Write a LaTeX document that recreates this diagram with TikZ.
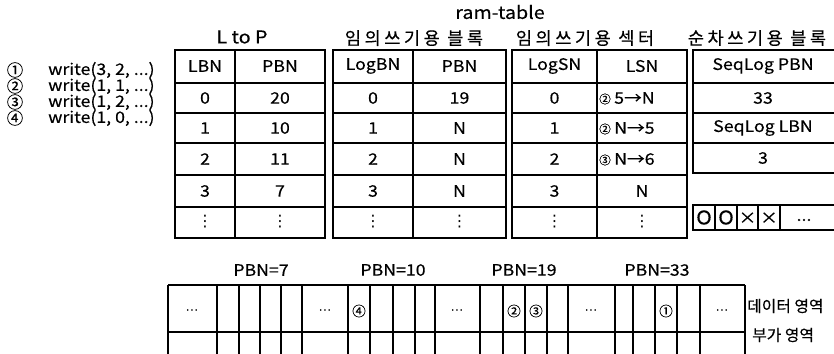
\documentclass[tikz,border=0pt]{standalone}
\usepackage{fontspec}
\setmainfont{Noto Sans CJK KR}
\newfontfamily\cellfam{Noto Sans CJK KR}[FakeStretch=1.12, FakeBold=0.4]
\newfontfamily\krfam{Noto Sans CJK KR}[FakeBold=0.4]
\newfontfamily\titlekrfam{Noto Sans CJK KR}[LetterSpace=20, FakeBold=0.4]
\newfontfamily\symfam{DejaVu Sans}
\usetikzlibrary{positioning}

\newcommand{\cellfont}{\cellfam\fontsize{13.5}{15}\selectfont}
\newcommand{\areafont}{\krfam\fontsize{13.5}{15}\selectfont}
\newcommand{\titlefont}{\cellfam\fontsize{15}{17}\selectfont}
\newcommand{\titlekrfont}{\titlekrfam\fontsize{15}{17}\selectfont}
\newcommand{\markfont}{\krfam\fontsize{10}{11}\selectfont}
\newcommand{\bigmarkfont}{\krfam\fontsize{11.5}{13}\selectfont}
\newcommand{\vdotsmark}{{\symfam ⋮}}
\newcommand{\hdotsmark}{{\symfam\fontsize{11}{12}\selectfont ⋯}}

\begin{document}
\begin{tikzpicture}[x=0.03cm, y=-0.03cm,
    tblFrame/.style={draw, line width=2.2pt},
    thinLine/.style={draw, line width=0.9pt},
    cellText/.style={font=\cellfont, inner sep=0pt},
    titleText/.style={font=\titlefont, inner sep=0pt},
    titleKr/.style={font=\titlekrfont, inner sep=0pt},
    markText/.style={font=\bigmarkfont, inner sep=0pt},
    listMark/.style={font=\krfam\fontsize{14}{15}\selectfont, inner sep=0pt}
]
    \useasboundingbox (0,0) rectangle (834,353);

    % titles
    \node[titleText] (ram) at (500,12) {ram-table};
    \node[titleText] (tLtoP) at (242,37) {L to P};
    \node[titleKr] (tRandBlk) at (414,38) {임의쓰기용 블록};
    \node[titleKr] (tRandSec) at (585,38) {임의쓰기용 섹터};
    \node[titleKr] (tSeqBlk) at (757,38) {순차쓰기용 블록};

    % write requests
    \node[listMark] (c1) at (15,70) {①};
    \node[listMark] (c2) at (15,86) {②};
    \node[listMark] (c3) at (15,102) {③};
    \node[listMark] (c4) at (15,118) {④};
    \node[cellText, anchor=west] (w1) at (48,70) {write(3, 2, ...)};
    \node[cellText, anchor=west] (w2) at (48,86) {write(1, 1, ...)};
    \node[cellText, anchor=west] (w3) at (48,102) {write(1, 2, ...)};
    \node[cellText, anchor=west] (w4) at (48,118) {write(1, 0, ...)};

    % L to P table
    \foreach \y in {83,113,143,175,207} \draw[thinLine] (175,\y) -- (325,\y);
    \draw[thinLine] (235,50) -- (235,238);
    \draw[tblFrame] (175,50) rectangle (325,238);
    \foreach \y/\a/\b in {66/LBN/PBN, 98/0/20, 128/1/10, 159/2/11, 191/3/7, 222/\vdotsmark/\vdotsmark} {
        \node[cellText] (lpa\y) at (205,\y) {\a};
        \node[cellText] (lpb\y) at (280,\y) {\b};
    }

    % random write block table
    \foreach \y in {83,113,143,175,207} \draw[thinLine] (333,\y) -- (506,\y);
    \draw[thinLine] (413,50) -- (413,238);
    \draw[tblFrame] (333,50) rectangle (506,238);
    \foreach \y/\a/\b in {66/LogBN/PBN, 98/0/19, 128/1/N, 159/2/N, 191/3/N, 222/\vdotsmark/\vdotsmark} {
        \node[cellText] (rba\y) at (373,\y) {\a};
        \node[cellText] (rbb\y) at (459.5,\y) {\b};
    }

    % random write sector table
    \foreach \y in {83,113,143,175,207} \draw[thinLine] (512,\y) -- (687,\y);
    \draw[thinLine] (597,50) -- (597,238);
    \draw[tblFrame] (512,50) rectangle (687,238);
    \foreach \y/\a in {66/LogSN, 98/0, 128/1, 159/2, 191/3, 222/\vdotsmark} {
        \node[cellText] (rsa\y) at (554.5,\y) {\a};
    }
    \node[cellText] (rsb66) at (642,66) {LSN};
    \node[markText, font=\markfont] (rsm98) at (605,99) {②};
    \node[markText, font=\markfont] (rsm128) at (605,129) {②};
    \node[markText, font=\markfont] (rsm159) at (605,160) {③};
    \node[cellText, anchor=west] (rsb98) at (614,98) {5→N};
    \node[cellText, anchor=west] (rsb128) at (614,128) {N→5};
    \node[cellText, anchor=west] (rsb159) at (614,159) {N→6};
    \node[cellText] (rsb191) at (642,191) {N};
    \node[cellText] (rsb222) at (642,222) {\vdotsmark};

    % sequential write block table
    \foreach \y in {83,113,143} \draw[thinLine] (693,\y) -- (838,\y);
    \draw[tblFrame] (693,50) rectangle (838,173);
    \node[cellText] (sq1) at (763,66) {SeqLog PBN};
    \node[cellText] (sq2) at (763,98) {33};
    \node[cellText] (sq3) at (763,128) {SeqLog LBN};
    \node[cellText] (sq4) at (763,158) {3};

    % page state row
    \foreach \x in {715,737,758,780} \draw[thinLine] (\x,205) -- (\x,230);
    \draw[tblFrame] (693,205) rectangle (838,230);
    \node[cellText, font=\cellfam\fontsize{16}{17}\selectfont] (st1) at (704,217.5) {O};
    \node[cellText, font=\cellfam\fontsize{16}{17}\selectfont] (st2) at (726,217.5) {O};
    \node[cellText] (st3) at (747.5,218) {×};
    \node[cellText] (st4) at (769,218) {×};
    \node[cellText] (st5) at (804,220) {...};

    % flash blocks
    \node[cellText] (b7) at (261,270) {PBN=7};
    \node[cellText] (b10) at (393,270) {PBN=10};
    \node[cellText] (b19) at (524,270) {PBN=19};
    \node[cellText] (b33) at (657,270) {PBN=33};
    \draw[line width=1.3pt] (168,285) -- (745,285);
    \draw[thinLine] (168,332) -- (745,332);
    \foreach \x in {239,260,281,370,393,415,503,525,547,633,655,677}
        \draw[thinLine] (\x,285) -- (\x,356);
    \foreach \x in {168,217,302,348,435,480,568,615,700,745}
        \draw[tblFrame] (\x,285) -- (\x,356);
    \foreach \x in {192,325,457,591,722}
        \node[inner sep=0pt] (gap\x) at (\x,312) {\hdotsmark};
    \node[markText] (m4) at (359,311) {④};
    \node[markText] (m2) at (514,311) {②};
    \node[markText] (m3) at (536,311) {③};
    \node[markText] (m1) at (666,311) {①};
    \node[font=\areafont, inner sep=0pt, anchor=west] (dataArea) at (747,306) {데이터 영역};
    \node[font=\areafont, inner sep=0pt, anchor=west] (spareArea) at (752,335) {부가 영역};
\end{tikzpicture}
\end{document}
